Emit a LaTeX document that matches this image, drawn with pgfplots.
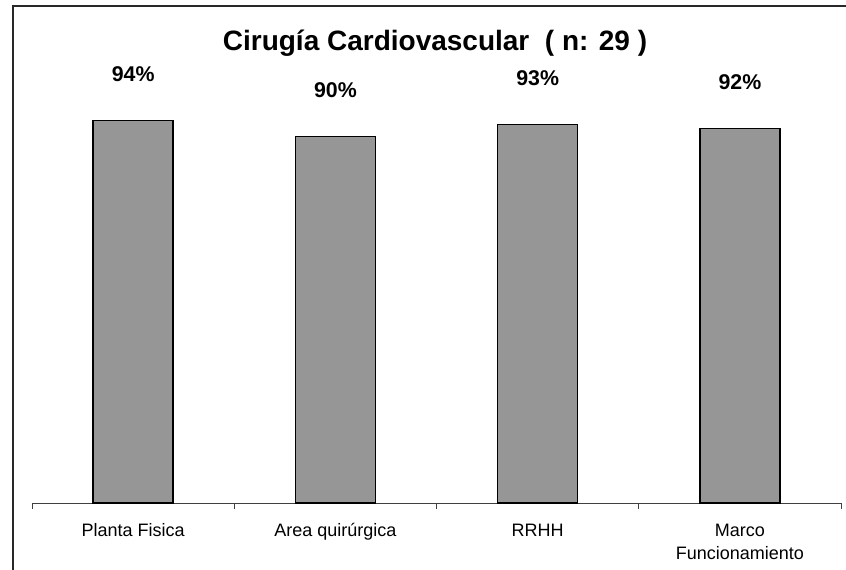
\documentclass[border=0pt]{standalone}
\usepackage{fontspec}
\setmainfont{Liberation Sans}
\usepackage{pgfplots}
\pgfplotsset{compat=1.18}
\definecolor{bargray}{RGB}{150,150,150}
\definecolor{framegray}{RGB}{40,40,40}

\begin{document}
\begin{tikzpicture}[x=0.75pt,y=0.75pt]
% page = 846 x 569 px, 1px = 0.75pt, y measured downwards
\useasboundingbox (0,0) rectangle (846,-569);
\draw[framegray, line width=1.1pt] (13,-580) -- (13,-6) -- (860,-6);
\node[font=\fontsize{21}{25}\selectfont\bfseries] at (435,-43)
  {Cirugía Cardiovascular~ ( n: 29 )};

\begin{axis}[
    at={(24pt,-377.25pt)}, anchor=south west,
    scale only axis,
    width=606.75pt, height=305.25pt,
    xmin=0.5, xmax=4.5,
    ymin=0, ymax=100,
    axis x line=bottom, axis y line=none,
    axis line style={black!75, line width=0.6pt, -},
    xtick={1,2,3,4},
    xticklabels={Planta Fisica, Area quirúrgica, RRHH, {Marco\\Funcionamiento}},
    major tick length=0pt,
    minor xtick={0.5,1.5,2.5,3.5,4.5},
    minor tick length=4.5pt,
    tick align=outside,
    minor tick style={black!75, line width=0.6pt},
    xticklabel style={font=\fontsize{13.5}{17.5}\selectfont, align=center, yshift=-12pt},
    /pgf/number format/assume math mode=true,
    clip=false,
    ybar, bar width=60pt,
    nodes near coords={\pgfmathprintnumber{\pgfplotspointmeta}\%},
    nodes near coords style={font=\fontsize{16}{19}\selectfont\bfseries,
      anchor=center, yshift=35pt},
]
\addplot[fill=bargray, draw=black, line width=1pt] coordinates {
    (1,94) (2,90) (3,93) (4,92)
};
\end{axis}
\end{tikzpicture}
\end{document}
